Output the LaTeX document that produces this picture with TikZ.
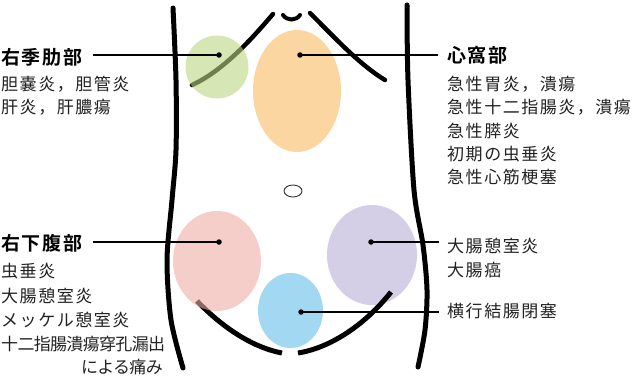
\documentclass[tikz,border=0pt]{standalone}
\usepackage{fontspec}
\setmainfont{Noto Sans CJK JP}
\newfontfamily\jpbody{Noto Sans CJK JP}[LetterSpace=9]
\newfontfamily\jpnarrow{Noto Sans CJK JP}[LetterSpace=-4]
\newfontfamily\jphead{Noto Sans CJK JP Bold}[LetterSpace=9]
\definecolor{txt}{RGB}{34,34,34}
\definecolor{zgreen}{RGB}{187,213,130}
\definecolor{zorange}{RGB}{252,214,160}
\definecolor{zpink}{RGB}{238,173,167}
\definecolor{zpurple}{RGB}{212,206,230}
\definecolor{zblue}{RGB}{162,216,242}
\tikzset{
  outline/.style={line width=5pt, line cap=round},
  neckline/.style={line width=4.5pt, line cap=round},
  zone/.style={fill=#1, draw=none},
  softzone/.style={fill=#1, fill opacity=0.6, draw=none},
  leader/.style={line width=1.6pt},
  dot/.style={circle, fill=black, inner sep=0pt, minimum size=5.5pt},
  head/.style={inner sep=0pt, font=\jphead\fontsize{19}{22}\selectfont, text=black},
  item/.style={inner sep=0pt, font=\jpbody\fontsize{17}{20}\selectfont, text=txt},
  narrowitem/.style={inner sep=0pt, font=\jpnarrow\fontsize{17}{20}\selectfont, text=txt},
}
\begin{document}
\begin{tikzpicture}[x=1pt, y=-1pt]
\useasboundingbox (0,0) rectangle (636,377);

% opaque zones (under the body outline)
\fill[zone=zpurple] (372,255) ellipse [x radius=45, y radius=50];
\fill[zone=zorange] (297,91) ellipse [x radius=44, y radius=61];
\fill[zone=zblue] (290.5,310.5) ellipse [x radius=32.5, y radius=37.5];

% torso sides
\draw[outline] plot[smooth] coordinates {(173,8) (176,80) (176,150) (172,200) (167,260) (171,320) (183,368)};
\draw[outline] plot[smooth] coordinates {(407,5) (408,80) (414,190) (423,245) (427,290) (425,330) (418,367)};

% rib cage and neck
\draw[neckline] (273,14) .. controls (255,35) and (225,70) .. (192,85);
\draw[neckline] (310,13) .. controls (335,38) and (360,65) .. (385,80);
\draw[line width=4pt, line cap=round] (283,15) .. controls (287,21) and (296,21) .. (300,15);

% pelvis
\draw[outline, line cap=butt] (197,301) .. controls (225,330) and (255,348) .. (282,353);
\draw[outline, line cap=butt] (298,353) .. controls (330,348) and (365,325) .. (391,292);

% navel
\draw[line width=0.9pt, draw=black!80] (293,191) ellipse [x radius=9, y radius=6];

% translucent zones (over the outline)
\fill[softzone=zgreen] (217,67) circle [radius=31.5];
\fill[softzone=zpink] (217,261) ellipse [x radius=44, y radius=50];

% dots
\node[dot] (dRUQ) at (219,55) {};
\node[dot] (dEpi) at (300,55) {};
\node[dot] (dRLQ) at (219,242) {};
\node[dot] (dLLQ) at (371,242) {};
\node[dot] (dTC)  at (301,312) {};

% headings
\node[head, anchor=west] (hRUQ) at (1,57) {右季肋部};
\node[head, anchor=west] (hEpi) at (447,55) {心窩部};
\node[head, anchor=west] (hRLQ) at (1,243.5) {右下腹部};

% right hypochondrium
\node[item, anchor=west] (a1) at (1,84) {胆嚢炎，胆管炎};
\node[item, anchor=west] (a2) at (1,107.5) {肝炎，肝膿瘍};

% epigastrium
\node[item, anchor=west] (b1) at (447,84.5) {急性胃炎，潰瘍};
\node[item, anchor=west] (b2) at (447,107.5) {急性十二指腸炎，潰瘍};
\node[item, anchor=west] (b3) at (447,131) {急性膵炎};
\node[item, anchor=west] (b4) at (447,154.5) {初期の虫垂炎};
\node[item, anchor=west] (b5) at (447,177.5) {急性心筋梗塞};

% right lower quadrant
\node[item, anchor=west] (c1) at (1,271.5) {虫垂炎};
\node[item, anchor=west] (c2) at (1,295.5) {大腸憩室炎};
\node[item, anchor=west] (c3) at (1,319.5) {メッケル憩室炎};
\node[narrowitem, anchor=west] (c4) at (1,344.5) {十二指腸潰瘍穿孔漏出};
\node[narrowitem, anchor=east] (c5) at (163,367.5) {による痛み};

% left lower quadrant and transverse colon
\node[item, anchor=west] (d1) at (447,245.5) {大腸憩室炎};
\node[item, anchor=west] (d2) at (447,270) {大腸癌};
\node[item, anchor=west] (e1) at (447,311) {横行結腸閉塞};

% leaders
\draw[leader] ([xshift=10pt]hRUQ.east |- dRUQ) -- (dRUQ.center);
\draw[leader] (dEpi.center) -- ([xshift=-9pt]hEpi.west |- dEpi);
\draw[leader] ([xshift=10pt]hRLQ.east |- dRLQ) -- (dRLQ.center);
\draw[leader] (dLLQ.center) -- ([xshift=-8pt]d1.west |- dLLQ);
\draw[leader] (dTC.center) -- ([xshift=-8pt]e1.west |- dTC);
\end{tikzpicture}
\end{document}
